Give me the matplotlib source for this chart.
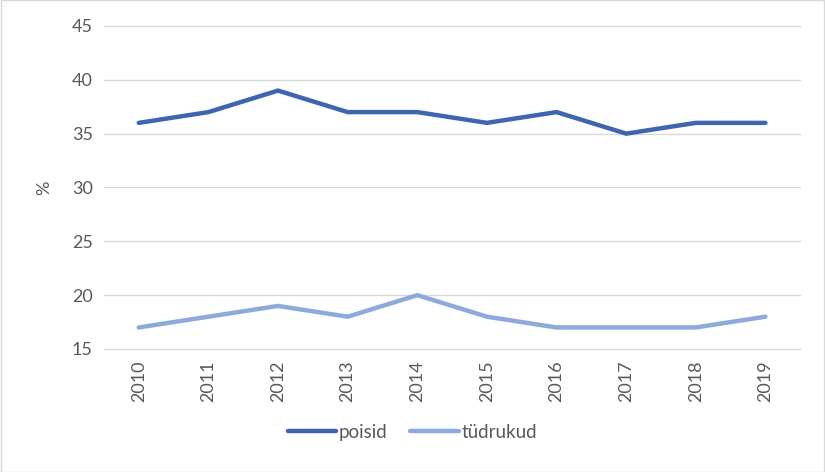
import matplotlib.pyplot as plt

years = ["2010", "2011", "2012", "2013", "2014", "2015", "2016", "2017", "2018", "2019"]
poisid = [36, 37, 39, 37, 37, 36, 37, 35, 36, 36]
tudrukud = [17, 18, 19, 18, 20, 18, 17, 17, 17, 18]

plt.rcParams['font.family'] = ['Lato', 'DejaVu Sans']
text_color = '#595959'

fig = plt.figure(figsize=(8.25, 4.72), dpi=100)
ax = fig.add_axes([0.126, 0.2606, 0.844, 0.6844])

x = range(len(years))
ax.plot(x, poisid, color='#3F65B0', lw=3.2, solid_capstyle='round', label='poisid')
ax.plot(x, tudrukud, color='#8EA9DB', lw=3.2, solid_capstyle='round', label='tüdrukud')

ax.set_xlim(-0.5, len(years) - 0.5)
ax.set_ylim(15, 45)
ax.set_yticks(range(15, 46, 5))
ax.set_xticks(list(x))
ax.set_xticklabels(years, rotation=90)
ax.grid(axis='y', color='#D9D9D9', lw=1)
for gl in ax.get_ygridlines():
    gl.set_clip_on(False)
ax.set_axisbelow(True)
for s in ax.spines.values():
    s.set_visible(False)
ax.tick_params(length=0, labelsize=13, colors=text_color, pad=8)
ax.set_ylabel('%', fontsize=13, color=text_color, labelpad=14)

fig.legend(loc='lower center', bbox_to_anchor=(0.5, 0.03), ncol=2, frameon=False,
           fontsize=13.5, labelcolor=text_color, handlelength=2.6, handletextpad=0.15,
           columnspacing=1.2)

fig.patches.append(plt.Rectangle((0.001, 0.001), 0.998, 0.998, transform=fig.transFigure,
                                 fill=False, edgecolor='#D9D9D9', lw=1))

fig.savefig('out.png', dpi=100)
